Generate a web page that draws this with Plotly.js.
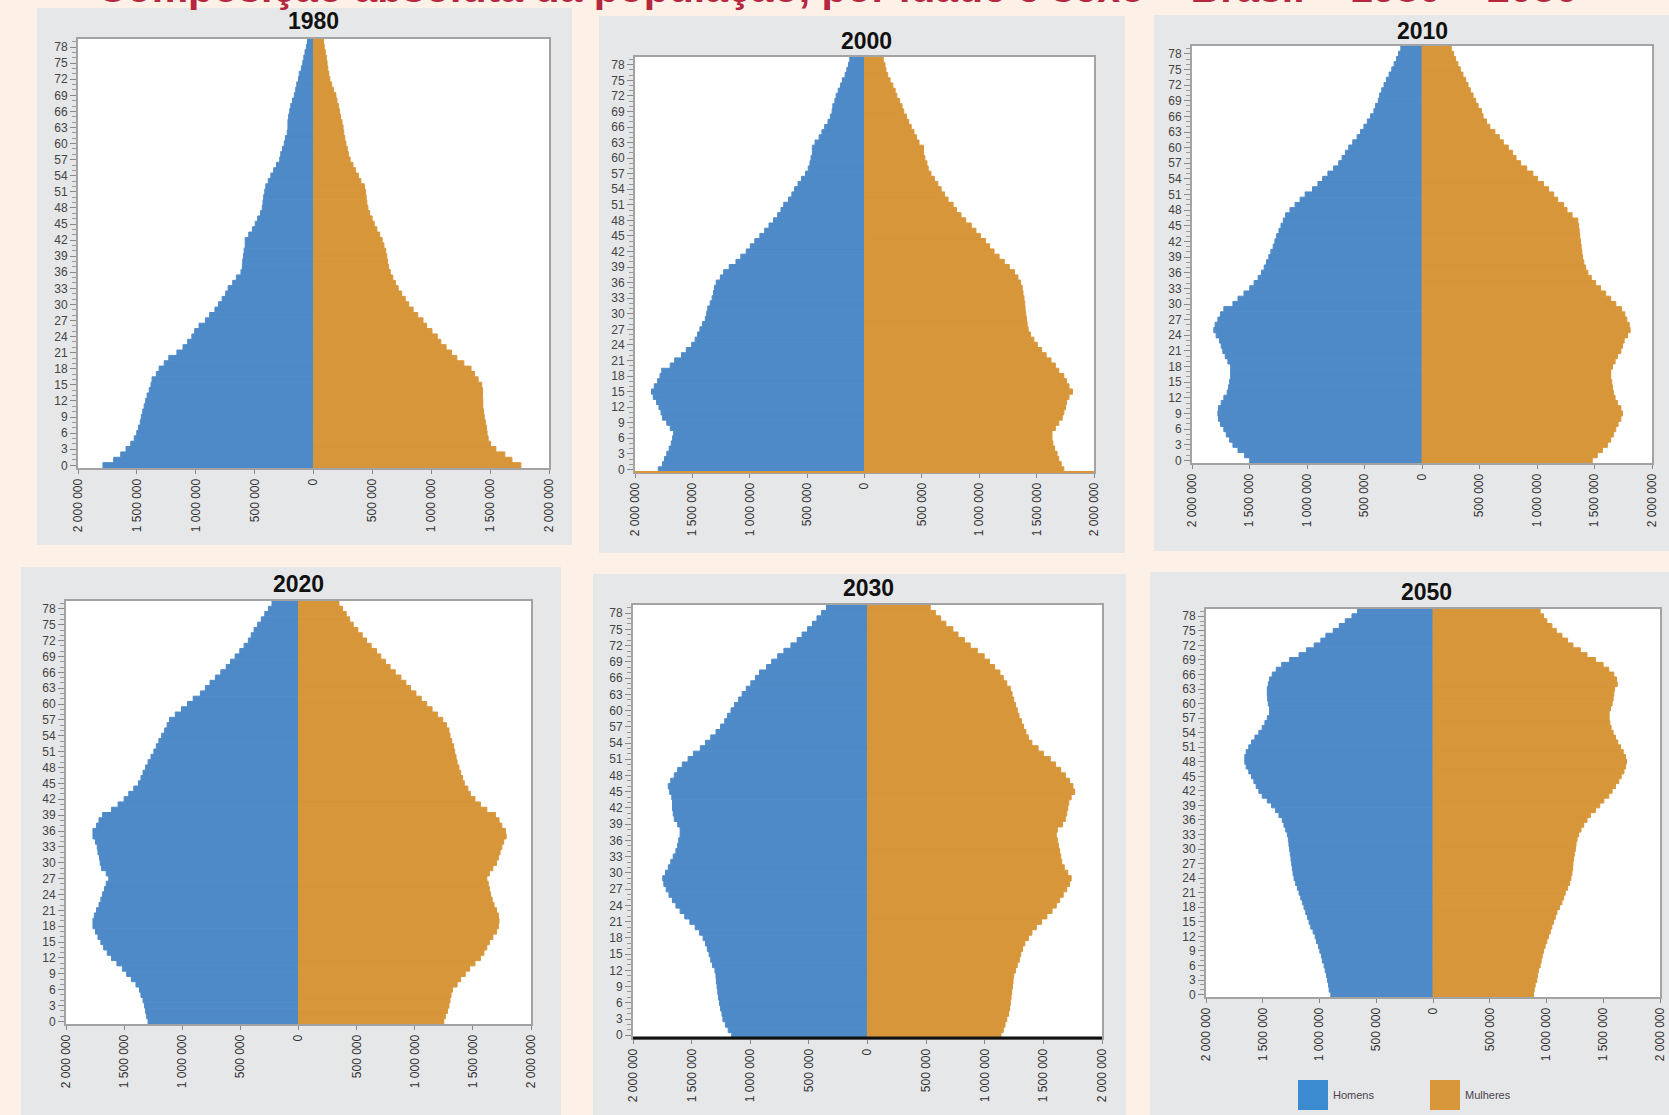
<!DOCTYPE html>
<html><head><meta charset="utf-8">
<script src="https://cdn.plot.ly/plotly-3.0.1.min.js"></script>
<style>html,body{margin:0;padding:0;background:#fdf1e7;}#chart{width:1669px;height:1115px;}</style>
</head><body><div id="chart"></div>
<script>
// ---------- DATA (population in thousands) ----------
const ages = [0,1,2,3,4,5,6,7,8,9,10,11,12,13,14,15,16,17,18,19,20,21,22,23,24,25,26,27,28,29,30,31,32,33,34,35,36,37,38,39,40,41,42,43,44,45,46,47,48,49,50,51,52,53,54,55,56,57,58,59,60,61,62,63,64,65,66,67,68,69,70,71,72,73,74,75,76,77,78,79];
const ageTicks = [0,3,6,9,12,15,18,21,24,27,30,33,36,39,42,45,48,51,54,57,60,63,66,69,72,75,78];
const years = ['1980','2000','2010','2020','2030','2050'];
const seriesNames = ['Homens','Mulheres'];
const xTickVals = [-2000000,-1500000,-1000000,-500000,0,500000,1000000,1500000,2000000];
const xTickText = ['2 000 000','1 500 000','1 000 000','500 000','0','500 000','1 000 000','1 500 000','2 000 000'];
const mainTitle = 'Composição absoluta da população, por idade e sexo – Brasil – 1980 – 2050';

const men1980 = [1788,1697,1637,1592,1552,1522,1501,1486,1471,1462,1450,1438,1425,1413,1395,1380,1371,1335,1311,1268,1229,1160,1108,1069,1033,1009,972,918,882,837,806,776,746,725,686,655,616,604,601,595,589,580,580,550,519,495,474,450,435,429,423,414,405,384,362,338,314,287,278,263,248,239,223,217,217,211,202,193,178,163,151,142,127,121,103,91,82,72,60,51];
const women1980 = [1761,1685,1625,1549,1504,1483,1474,1468,1459,1450,1444,1438,1438,1435,1435,1428,1398,1368,1338,1277,1217,1172,1126,1081,1051,1006,960,930,885,846,809,779,749,719,695,673,652,637,628,622,613,598,583,562,538,516,498,477,462,453,447,441,432,402,381,356,335,311,296,287,275,266,257,251,242,230,220,211,199,190,169,154,139,130,121,115,109,100,91,85];

const men2000 = [1797,1761,1743,1723,1702,1684,1672,1663,1693,1723,1761,1773,1791,1812,1841,1856,1832,1803,1782,1767,1693,1654,1595,1553,1506,1476,1455,1434,1411,1387,1375,1366,1345,1328,1316,1307,1292,1256,1227,1179,1120,1078,1031,995,956,912,870,832,793,757,728,704,662,633,609,579,549,514,490,475,466,454,454,431,395,371,347,318,297,282,276,258,247,229,208,193,169,154,140,128];
const women2000 = [1737,1714,1693,1678,1657,1642,1634,1634,1663,1693,1723,1737,1752,1761,1782,1812,1782,1761,1737,1693,1663,1625,1583,1544,1506,1476,1446,1426,1417,1411,1405,1399,1396,1390,1381,1375,1360,1337,1307,1262,1218,1173,1129,1090,1054,1010,971,930,882,841,802,772,728,698,668,639,609,579,555,544,526,514,514,475,454,431,407,386,365,342,327,306,282,267,247,223,202,187,178,163];

const men2010 = [1498,1542,1600,1644,1673,1702,1723,1752,1770,1775,1770,1746,1723,1694,1682,1673,1664,1664,1664,1688,1711,1732,1746,1761,1790,1810,1799,1775,1752,1723,1644,1600,1548,1498,1460,1425,1396,1372,1352,1332,1314,1294,1279,1264,1244,1226,1206,1186,1148,1104,1060,1016,952,905,864,818,768,724,695,666,637,602,564,534,505,476,447,418,403,380,368,350,330,310,286,263,242,222,204,184];
const women2010 = [1480,1524,1568,1612,1641,1664,1685,1705,1729,1743,1729,1699,1679,1664,1656,1650,1641,1641,1656,1679,1699,1729,1743,1758,1787,1810,1802,1781,1764,1734,1685,1641,1597,1553,1510,1472,1442,1422,1407,1396,1390,1384,1378,1372,1367,1361,1355,1305,1261,1232,1180,1145,1101,1057,1004,964,911,858,818,788,750,707,672,634,590,561,531,517,488,467,444,420,400,380,356,333,312,292,274,254];

const men2020 = [1294,1306,1315,1324,1337,1355,1368,1398,1438,1478,1515,1562,1608,1645,1676,1700,1725,1746,1768,1768,1756,1737,1716,1700,1685,1669,1654,1632,1654,1694,1706,1712,1725,1731,1746,1768,1768,1737,1716,1685,1608,1552,1500,1460,1417,1377,1355,1337,1315,1294,1269,1244,1223,1201,1177,1152,1130,1109,1060,1007,955,906,844,801,761,715,668,622,585,545,505,468,431,407,382,351,320,290,259,228];
const women2020 = [1250,1263,1281,1294,1303,1312,1324,1364,1395,1435,1472,1518,1565,1595,1620,1642,1672,1703,1719,1725,1719,1703,1682,1666,1651,1642,1632,1620,1642,1672,1703,1719,1734,1749,1765,1786,1780,1749,1725,1694,1620,1565,1518,1478,1457,1426,1411,1395,1380,1364,1355,1343,1334,1318,1303,1294,1272,1241,1195,1149,1103,1056,1010,964,924,881,832,788,748,708,671,625,585,548,511,471,440,410,379,348];

const men2030 = [1158,1188,1212,1233,1241,1253,1262,1271,1277,1283,1289,1292,1301,1322,1337,1351,1366,1381,1402,1432,1470,1515,1559,1598,1634,1663,1693,1717,1737,1746,1723,1699,1678,1657,1634,1619,1610,1598,1598,1619,1648,1657,1663,1663,1669,1687,1699,1678,1648,1619,1580,1530,1485,1426,1381,1337,1292,1253,1218,1194,1164,1135,1099,1069,1034,995,956,921,861,817,766,713,653,600,558,511,469,431,392,350];
const women2030 = [1138,1158,1173,1188,1203,1212,1218,1224,1230,1236,1241,1247,1262,1277,1295,1307,1322,1342,1372,1402,1440,1485,1530,1574,1610,1639,1669,1699,1723,1737,1708,1678,1657,1648,1639,1628,1619,1610,1619,1663,1687,1699,1708,1717,1737,1767,1752,1723,1687,1648,1604,1559,1500,1455,1402,1372,1351,1331,1313,1292,1277,1262,1247,1233,1218,1188,1158,1129,1084,1040,995,936,876,826,772,728,668,624,579,535];

const men2050 = [900,915,920,929,938,950,959,974,982,997,1009,1027,1038,1056,1077,1092,1106,1121,1136,1151,1165,1180,1195,1210,1224,1233,1239,1245,1251,1257,1263,1269,1274,1283,1298,1313,1328,1357,1387,1422,1460,1505,1534,1558,1578,1599,1623,1646,1658,1658,1646,1623,1599,1569,1534,1505,1481,1460,1440,1440,1451,1457,1460,1460,1451,1440,1416,1381,1333,1263,1180,1115,1047,988,944,879,826,773,714,664];
const women2050 = [885,891,900,915,920,929,944,953,962,974,988,1003,1018,1033,1047,1062,1077,1092,1115,1136,1151,1165,1186,1204,1215,1224,1230,1233,1239,1245,1254,1260,1269,1283,1304,1328,1357,1387,1431,1469,1505,1549,1578,1608,1637,1658,1682,1696,1705,1696,1676,1652,1628,1608,1587,1569,1558,1552,1552,1564,1578,1587,1593,1599,1623,1617,1593,1549,1499,1431,1357,1298,1233,1186,1136,1086,1047,1003,974,944];

const menByYear = [men1980, men2000, men2010, men2020, men2030, men2050];
const womenByYear = [women1980, women2000, women2010, women2020, women2030, women2050];

// ---------- LAYOUT GEOMETRY (pixels in 1669x1115 page) ----------
const W = 1669, H = 1115;
const panels = [
  {plot:[78,549,39,468],   bg:[37,572,8,545],     tx:313,  ty:21,  bottom:null},
  {plot:[635,1094,57,472], bg:[599,1125,16,553],  tx:866,  ty:41,  bottom:{color:'#d9963a', width:2}},
  {plot:[1192,1652,46,463],bg:[1154,1669,15,551], tx:1422, ty:31,  bottom:null},
  {plot:[66,531,601,1024], bg:[21,561,567,1115],  tx:298,  ty:584, bottom:null},
  {plot:[633,1102,605,1038],bg:[593,1126,574,1115],tx:868, ty:588, bottom:{color:'#111111', width:3}},
  {plot:[1206,1660,609,997],bg:[1150,1669,572,1115],tx:1426,ty:592, bottom:null}
];
const BLUE = '#4f8ac8', ORANGE = '#d8963a';
const fx = p => p / W;
const fy = p => 1 - p / H;

const data = [];
const layout = {
  width: W, height: H,
  margin: {l:0, r:0, t:0, b:0},
  paper_bgcolor: '#fdf1e7',
  plot_bgcolor: 'rgba(0,0,0,0)',
  barmode: 'overlay', bargap: 0,
  showlegend: false,
  font: {family: 'Liberation Sans, Arial, sans-serif', color: '#333'},
  shapes: [], annotations: []
};

panels.forEach((p, i) => {
  const k = i === 0 ? '' : String(i + 1);
  const xa = 'x' + k, ya = 'y' + k;
  data.push({
    type: 'bar', orientation: 'h', name: seriesNames[0],
    y: ages, x: menByYear[i].map(v => -v * 1000),
    xaxis: xa, yaxis: ya,
    marker: {color: BLUE, line: {width: 1, color: BLUE}},
    hovertemplate: seriesNames[0] + ' ' + years[i] + '<br>Idade %{y}: %{customdata}<extra></extra>',
    customdata: menByYear[i].map(v => v * 1000)
  });
  data.push({
    type: 'bar', orientation: 'h', name: seriesNames[1],
    y: ages, x: womenByYear[i].map(v => v * 1000),
    xaxis: xa, yaxis: ya,
    marker: {color: ORANGE, line: {width: 1, color: ORANGE}},
    hovertemplate: seriesNames[1] + ' ' + years[i] + '<br>Idade %{y}: %{x}<extra></extra>'
  });
  layout['xaxis' + k] = {
    domain: [fx(p.plot[0]), fx(p.plot[1])], anchor: ya,
    range: [-2000000, 2000000], tickmode: 'array', tickvals: xTickVals, ticktext: xTickText,
    tickangle: -90, ticks: 'outside', ticklen: 4, tickcolor: '#888', tickwidth: 1,
    showline: true, mirror: true, linecolor: '#a3a3a3', linewidth: 2,
    showgrid: false, zeroline: false, fixedrange: true,
    tickfont: {size: 12, color: '#333', family: 'Liberation Sans, Arial, sans-serif'}
  };
  layout['yaxis' + k] = {
    domain: [fy(p.plot[3]), fy(p.plot[2])], anchor: xa,
    range: [-0.5, 79.5], tickmode: 'array', tickvals: ageTicks,
    ticks: 'outside', ticklen: 6, tickcolor: '#888', tickwidth: 1,
    minor: {tickmode: 'linear', tick0: 0, dtick: 1, ticks: 'outside', ticklen: 4, tickcolor: '#999', showgrid: false},
    showline: true, mirror: true, linecolor: '#a3a3a3', linewidth: 2,
    showgrid: false, zeroline: false, fixedrange: true,
    tickfont: {size: 12, color: '#444', family: 'Liberation Sans Narrow, Liberation Sans, Arial, sans-serif'}
  };
  // grey panel + white plotting area
  layout.shapes.push({type:'rect', xref:'paper', yref:'paper', layer:'below',
    x0: fx(p.bg[0]), x1: fx(p.bg[1]), y0: fy(p.bg[3]), y1: fy(p.bg[2]),
    fillcolor:'#e6e7e8', line:{width:0}});
  layout.shapes.push({type:'rect', xref: xa + ' domain', yref: ya + ' domain', layer:'below',
    x0: 0, x1: 1, y0: 0, y1: 1, fillcolor:'#ffffff', line:{width:0}});
  if (p.bottom) {
    layout.shapes.push({type:'line', xref: xa + ' domain', yref: ya + ' domain', layer:'above',
      x0: 0, x1: 1, y0: 0, y1: 0, line:{color: p.bottom.color, width: p.bottom.width}});
  }
  layout.annotations.push({text: '<b>' + years[i] + '</b>', xref:'paper', yref:'paper',
    x: fx(p.tx), y: fy(p.ty), xanchor:'center', yanchor:'middle', showarrow:false,
    font:{size: 23, color:'#111', family:'Liberation Sans, Arial, sans-serif'}});
});

// main title (cut off at the top edge, as in the reference)
layout.annotations.push({text: '<b>' + mainTitle + '</b>', xref:'paper', yref:'paper',
  x: fx(837), y: fy(13), xanchor:'center', yanchor:'bottom', showarrow:false,
  font:{size: 41, color:'#b5263f', family:'Liberation Sans, Arial, sans-serif'}});

// legend (swatches + labels) at bottom of the 2050 panel
const legendItems = [
  {name: seriesNames[0], color: '#3b8bd0', x0: 1298},
  {name: seriesNames[1], color: ORANGE, x0: 1430}
];
legendItems.forEach(it => {
  layout.shapes.push({type:'rect', xref:'paper', yref:'paper', layer:'above',
    x0: fx(it.x0), x1: fx(it.x0 + 30), y0: fy(1110), y1: fy(1080),
    fillcolor: it.color, line:{width:0}});
  layout.annotations.push({text: it.name, xref:'paper', yref:'paper',
    x: fx(it.x0 + 33), y: fy(1095), xanchor:'left', yanchor:'middle', showarrow:false,
    font:{size: 11, color:'#4a4050', family:'Liberation Sans, Arial, sans-serif'}});
});

Plotly.newPlot('chart', data, layout, {staticPlot: true, displayModeBar: false});
</script>
</body></html>
